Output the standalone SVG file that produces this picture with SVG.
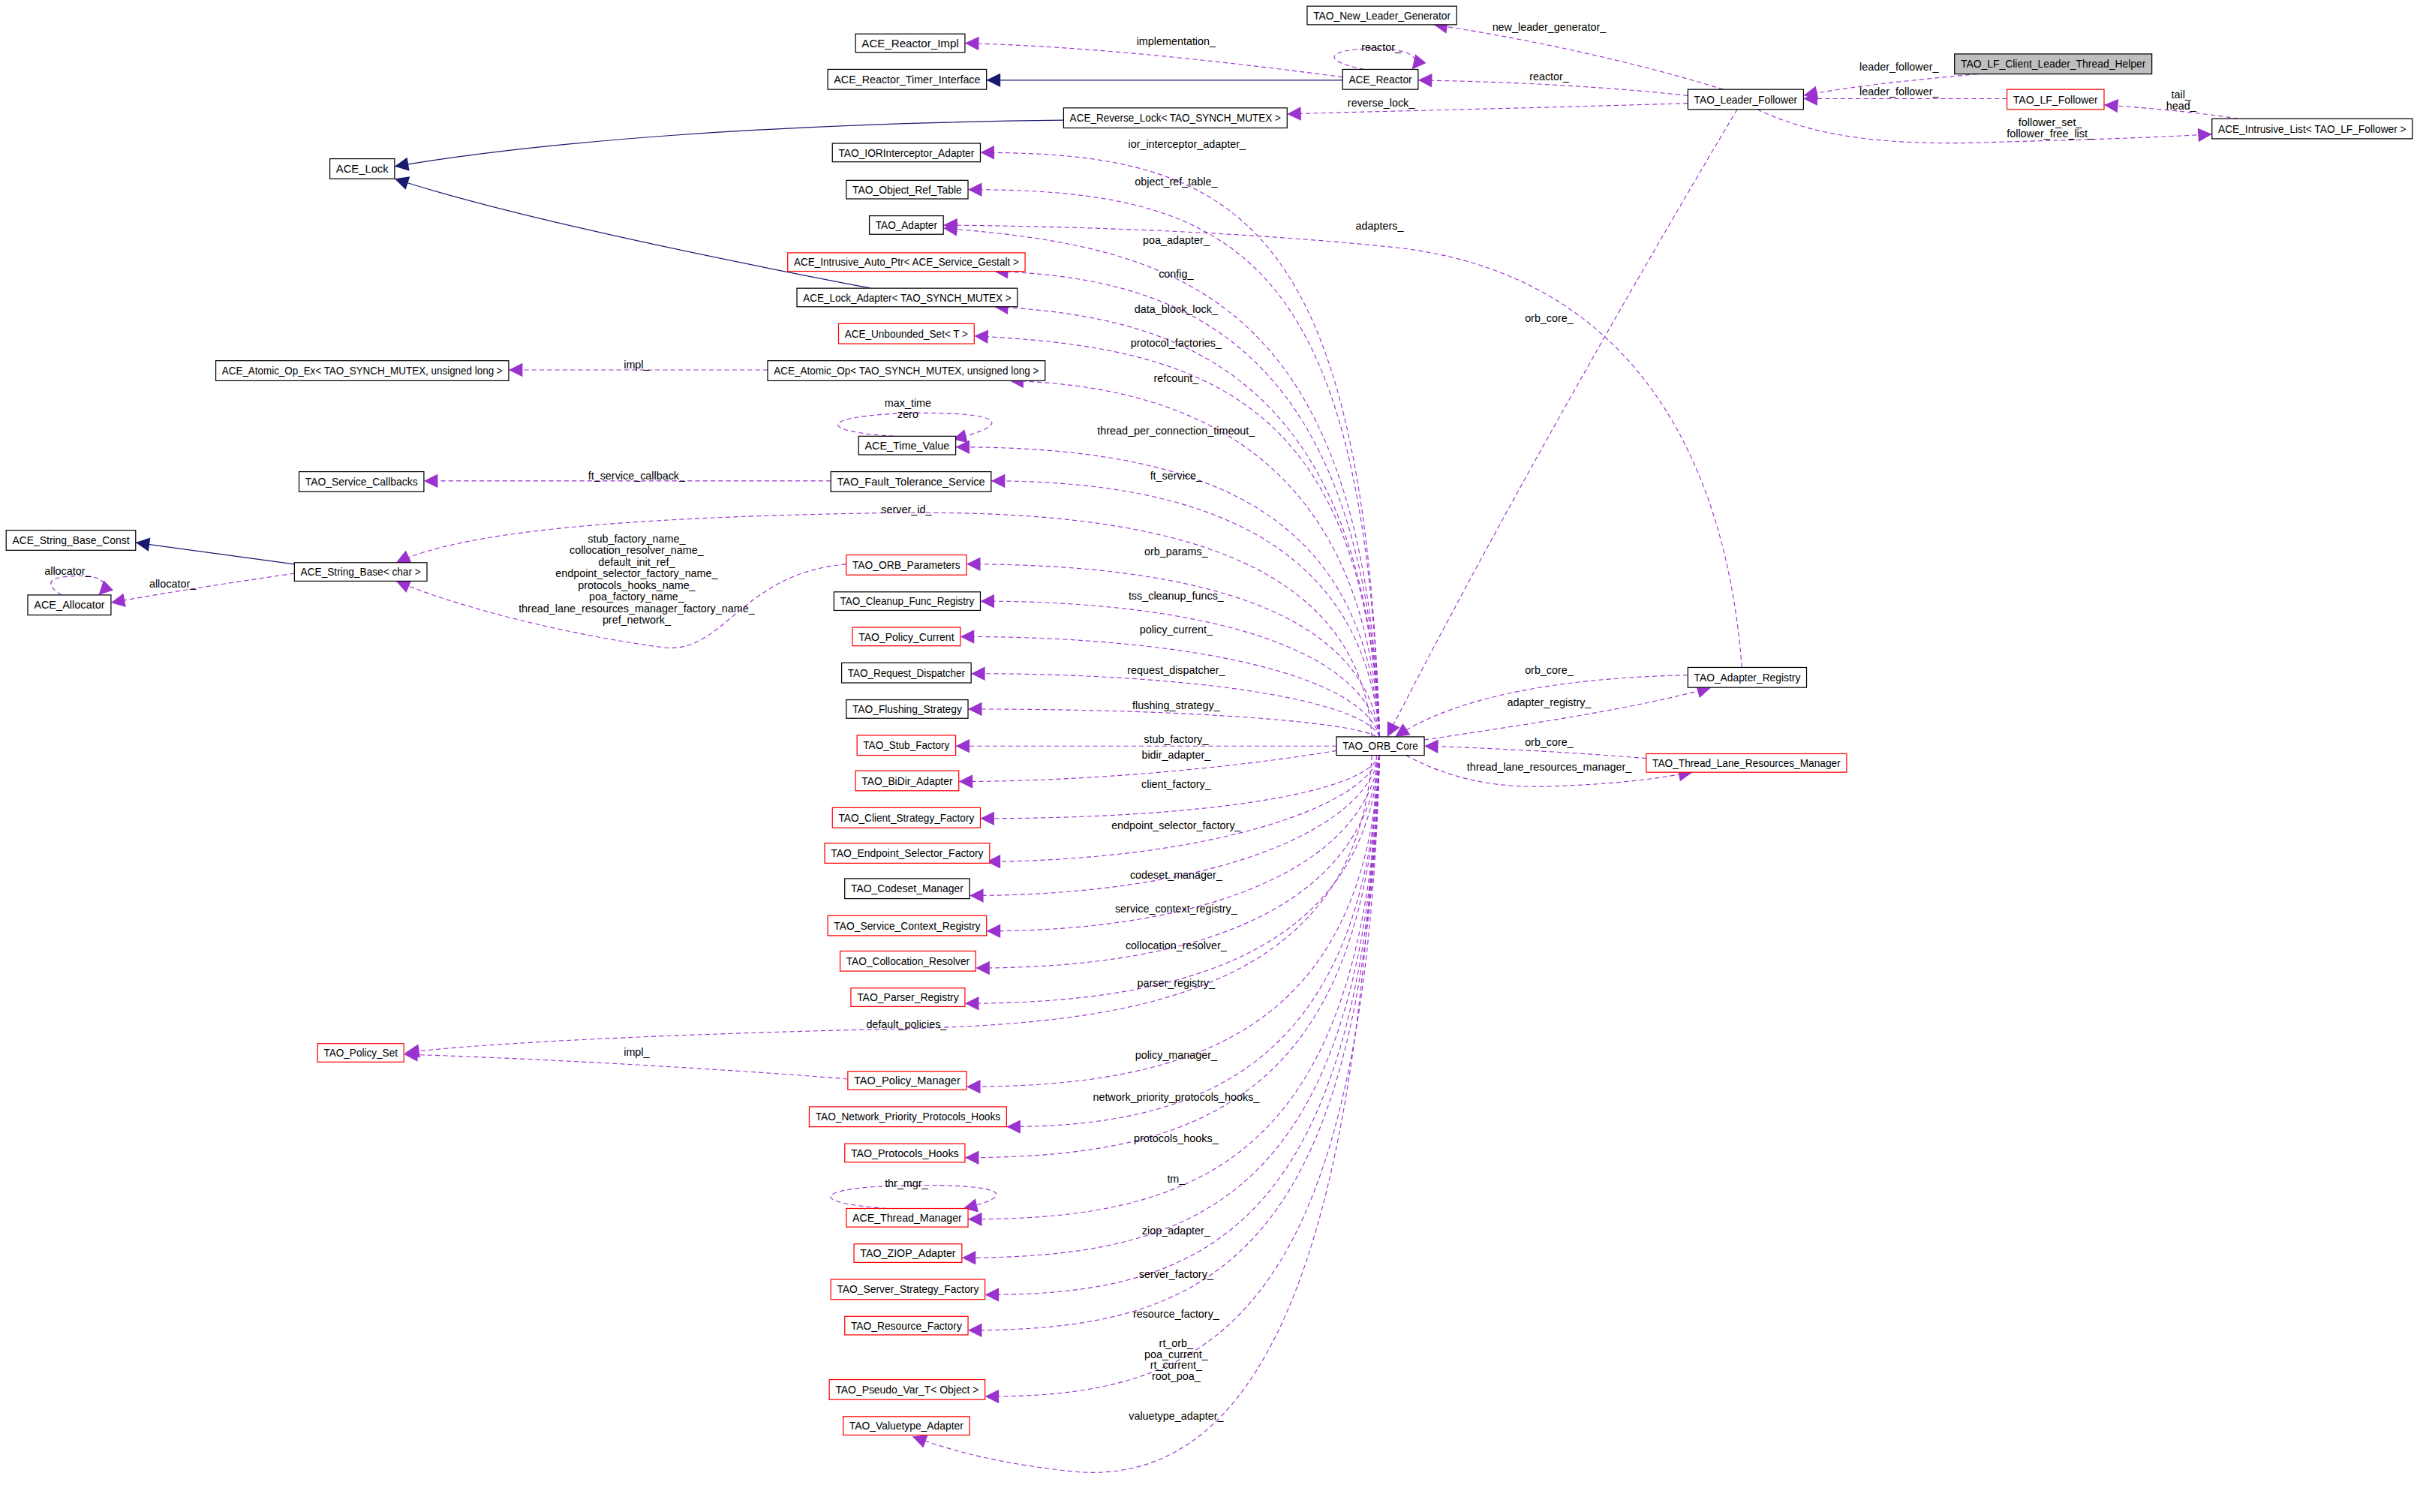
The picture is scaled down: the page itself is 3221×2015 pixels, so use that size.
<svg xmlns="http://www.w3.org/2000/svg" width="3221" height="2015" viewBox="0 0 3221 2015">
<style>
.n rect{fill:#fff;stroke:#000;stroke-width:0.6}
.r rect{stroke:#f00}
.g rect{fill:#bfbfbf}
text{font-family:"Liberation Sans",Arial,sans-serif;font-size:7px;fill:#000}
.n text{text-anchor:middle}
.e path{fill:none;stroke:#9a32cd;stroke-width:0.55;stroke-dasharray:3,2;marker-end:url(#pa)}
.i path{fill:none;stroke:#191970;stroke-width:0.6;marker-end:url(#ia)}
.l text{text-anchor:middle}
</style>
<defs>
<marker id="pa" viewBox="0 0 10 10" refX="10" refY="5" markerWidth="11" markerHeight="9" orient="auto" markerUnits="userSpaceOnUse"><path d="M0,0L10,5L0,10z" fill="#9a32cd"/></marker>
<marker id="ia" viewBox="0 0 10 10" refX="10" refY="5" markerWidth="11" markerHeight="9" orient="auto" markerUnits="userSpaceOnUse"><path d="M0,0L10,5L0,10z" fill="#191970"/></marker>
</defs>
<rect width="3221" height="2015" fill="#fff"/>
<g transform="scale(2.0542)">
<g id="connectors">
<g class="i">
<path d="M871,52L640,52"/>
<path d="M690,78C500,80 350,92 256,108"/>
<path d="M565,187C450,165 330,140 256,116"/>
<path d="M191,366L88,352"/>
</g>
<g class="e">
<path d="M871,50C780,38 700,30 626,28"/>
<path d="M885,45C860,40 860,34 880,32C905,30 925,34 916,45"/>
<path d="M1095,62C1030,55 970,53 920,52"/>
<path d="M1095,67C1000,70 900,72 835,74"/>
<path d="M1118,58C1060,40 990,25 930,16"/>
<path d="M1283,48C1240,52 1200,56 1170,62"/>
<path d="M1302,64L1170,64"/>
<path d="M1140,71C1180,90 1230,95 1300,92C1380,90 1420,88 1435,87"/>
<path d="M1452,77C1420,72 1390,70 1365,68"/>
<path d="M1127,71C1050,200 960,360 900,478"/>
<path d="M1095,438C1000,440 940,455 905,478"/>
<path d="M924,480C990,470 1060,460 1110,446"/>
<path d="M1068,492C1020,488 960,485 924,484"/>
<path d="M912,490C940,505 970,512 1010,510C1060,508 1080,504 1098,501"/>
<path d="M1130,433C1120,300 1060,175 900,160C800,150 700,147 612,146"/>
<path d="M498,240L330,240"/>
<path d="M539,312L275,312"/>
<path d="M550,700C450,692 330,686 262,684"/>
<path d="M191,372C150,378 110,384 72,391"/>
<path d="M40,386C30,380 30,375 44,374C66,372 72,378 64,386"/>
<path d="M580,283C530,280 530,270 589,268C650,267 660,275 618,285"/>
<path d="M575,784C520,780 530,770 589,769C655,768 660,776 625,784"/>
<path d="M549,366C480,372 470,425 430,420C370,412 300,395 257,377"/>
<path d="M890,478C880,340 700,330 560,333C400,336 300,345 257,365"/>
<path d="M890,490C880,660 700,665 560,668C400,672 300,678 263,683"/>
<path d="M893,490C880,900 780,960 700,955C650,950 620,942 592,932"/>
<path d="M895,478C885,139 800,99 636,99"/>
<path d="M895,478C885,163 800,123 628,123"/>
<path d="M895,478C885,188 760,160 612,148"/>
<path d="M895,478C885,216 760,180 645,176"/>
<path d="M895,478C885,239 760,205 645,199"/>
<path d="M895,478C885,258 780,225 632,218"/>
<path d="M895,478C885,287 760,250 655,247"/>
<path d="M895,478C885,330 780,290 620,290"/>
<path d="M895,478C885,352 780,312 643,312"/>
<path d="M895,478C885,398 780,366 627,366"/>
<path d="M895,478C885,420 780,390 636,390"/>
<path d="M895,478C885,440 780,413 623,413"/>
<path d="M895,478C885,455 780,437 630,437"/>
<path d="M893,478C880,469 780,460 628,460"/>
<path d="M867,484L620,484"/>
<path d="M867,487C820,495 720,507 622,507"/>
<path d="M895,490C885,515 780,531 636,531"/>
<path d="M895,490C885,525 780,558 640,559"/>
<path d="M895,490C885,541 780,581 629,581"/>
<path d="M895,490C885,564 780,604 640,604"/>
<path d="M895,490C885,588 780,628 633,628"/>
<path d="M895,490C885,611 780,651 626,651"/>
<path d="M895,490C885,665 780,705 627,705"/>
<path d="M895,490C885,691 780,731 653,731"/>
<path d="M895,490C885,711 780,751 626,751"/>
<path d="M895,490C885,751 780,791 628,791"/>
<path d="M895,490C885,776 780,816 624,816"/>
<path d="M895,490C885,800 780,840 639,840"/>
<path d="M895,490C885,823 780,863 628,863"/>
<path d="M895,490C885,866 780,906 639,906"/>
</g>
<g class="l">
<text x="763" y="29">implementation_</text>
<text x="896" y="33">reactor_</text>
<text x="1005" y="52">reactor_</text>
<text x="896" y="69">reverse_lock_</text>
<text x="1005" y="20">new_leader_generator_</text>
<text x="1232" y="46">leader_follower_</text>
<text x="1232" y="62">leader_follower_</text>
<text x="1330" y="82">follower_set_</text>
<text x="1330" y="89">follower_free_list_</text>
<text x="1415" y="64">tail_</text>
<text x="1415" y="71">head_</text>
<text x="1005" y="209">orb_core_</text>
<text x="1005" y="437">orb_core_</text>
<text x="1005" y="458">adapter_registry_</text>
<text x="1005" y="484">orb_core_</text>
<text x="1005" y="500">thread_lane_resources_manager_</text>
<text x="895" y="149">adapters_</text>
<text x="413" y="239">impl_</text>
<text x="413" y="311">ft_service_callback_</text>
<text x="413" y="685">impl_</text>
<text x="112" y="381">allocator_</text>
<text x="44" y="373">allocator_</text>
<text x="589" y="264">max_time</text>
<text x="589" y="271">zero</text>
<text x="588" y="770">thr_mgr_</text>
<text x="413" y="352">stub_factory_name_</text>
<text x="413" y="359.5">collocation_resolver_name_</text>
<text x="413" y="367">default_init_ref_</text>
<text x="413" y="374.5">endpoint_selector_factory_name_</text>
<text x="413" y="382">protocols_hooks_name_</text>
<text x="413" y="389.5">poa_factory_name_</text>
<text x="413" y="397">thread_lane_resources_manager_factory_name_</text>
<text x="413" y="404.5">pref_network_</text>
<text x="588" y="333">server_id_</text>
<text x="588" y="667">default_policies_</text>
<text x="770" y="96">ior_interceptor_adapter_</text>
<text x="763" y="120">object_ref_table_</text>
<text x="763" y="158">poa_adapter_</text>
<text x="763" y="180">config_</text>
<text x="763" y="203">data_block_lock_</text>
<text x="763" y="225">protocol_factories_</text>
<text x="763" y="248">refcount_</text>
<text x="763" y="282">thread_per_connection_timeout_</text>
<text x="763" y="311">ft_service_</text>
<text x="763" y="360">orb_params_</text>
<text x="763" y="389">tss_cleanup_funcs_</text>
<text x="763" y="411">policy_current_</text>
<text x="763" y="437">request_dispatcher_</text>
<text x="763" y="460">flushing_strategy_</text>
<text x="763" y="482">stub_factory_</text>
<text x="763" y="492">bidir_adapter_</text>
<text x="763" y="511">client_factory_</text>
<text x="763" y="538">endpoint_selector_factory_</text>
<text x="763" y="570">codeset_manager_</text>
<text x="763" y="592">service_context_registry_</text>
<text x="763" y="616">collocation_resolver_</text>
<text x="763" y="640">parser_registry_</text>
<text x="763" y="687">policy_manager_</text>
<text x="763" y="714">network_priority_protocols_hooks_</text>
<text x="763" y="741">protocols_hooks_</text>
<text x="763" y="767">tm_</text>
<text x="763" y="801">ziop_adapter_</text>
<text x="763" y="829">server_factory_</text>
<text x="763" y="855">resource_factory_</text>
<text x="763" y="874">rt_orb_</text>
<text x="763" y="881">poa_current_</text>
<text x="763" y="888">rt_current_</text>
<text x="763" y="895">root_poa_</text>
<text x="763" y="921">valuetype_adapter_</text>
</g>
</g>
<g id="n1" class="n"><rect x="848" y="4" width="97" height="12"/><text x="896.5" y="12.5" textLength="89" lengthAdjust="spacingAndGlyphs">TAO_New_Leader_Generator</text></g>
<g id="n2" class="n g"><rect x="1268" y="35" width="128" height="13"/><text x="1332" y="44" textLength="120" lengthAdjust="spacingAndGlyphs">TAO_LF_Client_Leader_Thread_Helper</text></g>
<g id="n3" class="n"><rect x="555" y="22" width="71" height="12"/><text x="590.5" y="30.5" textLength="63" lengthAdjust="spacingAndGlyphs">ACE_Reactor_Impl</text></g>
<g id="n4" class="n"><rect x="537" y="45" width="103" height="13"/><text x="588.5" y="54" textLength="95" lengthAdjust="spacingAndGlyphs">ACE_Reactor_Timer_Interface</text></g>
<g id="n5" class="n"><rect x="871" y="45" width="49" height="13"/><text x="895.5" y="54" textLength="41" lengthAdjust="spacingAndGlyphs">ACE_Reactor</text></g>
<g id="n6" class="n"><rect x="1095" y="58" width="75" height="13"/><text x="1132.5" y="67" textLength="67" lengthAdjust="spacingAndGlyphs">TAO_Leader_Follower</text></g>
<g id="n7" class="n r"><rect x="1302" y="58" width="63" height="13"/><text x="1333.5" y="67" textLength="55" lengthAdjust="spacingAndGlyphs">TAO_LF_Follower</text></g>
<g id="n8" class="n"><rect x="1435" y="77" width="130" height="13"/><text x="1500" y="86" textLength="122" lengthAdjust="spacingAndGlyphs">ACE_Intrusive_List&lt; TAO_LF_Follower &gt;</text></g>
<g id="n9" class="n"><rect x="690" y="70" width="145" height="13"/><text x="762.5" y="79" textLength="137" lengthAdjust="spacingAndGlyphs">ACE_Reverse_Lock&lt; TAO_SYNCH_MUTEX &gt;</text></g>
<g id="n10" class="n"><rect x="214" y="103" width="42" height="13"/><text x="235" y="112" textLength="34" lengthAdjust="spacingAndGlyphs">ACE_Lock</text></g>
<g id="n11" class="n"><rect x="540" y="93" width="96" height="12"/><text x="588" y="101.5" textLength="88" lengthAdjust="spacingAndGlyphs">TAO_IORInterceptor_Adapter</text></g>
<g id="n12" class="n"><rect x="549" y="117" width="79" height="12"/><text x="588.5" y="125.5" textLength="71" lengthAdjust="spacingAndGlyphs">TAO_Object_Ref_Table</text></g>
<g id="n13" class="n"><rect x="564" y="140" width="48" height="12"/><text x="588" y="148.5" textLength="40" lengthAdjust="spacingAndGlyphs">TAO_Adapter</text></g>
<g id="n14" class="n r"><rect x="511" y="164" width="154" height="12"/><text x="588" y="172.5" textLength="146" lengthAdjust="spacingAndGlyphs">ACE_Intrusive_Auto_Ptr&lt; ACE_Service_Gestalt &gt;</text></g>
<g id="n15" class="n"><rect x="517" y="187" width="143" height="12"/><text x="588.5" y="195.5" textLength="135" lengthAdjust="spacingAndGlyphs">ACE_Lock_Adapter&lt; TAO_SYNCH_MUTEX &gt;</text></g>
<g id="n16" class="n r"><rect x="544" y="210" width="88" height="13"/><text x="588" y="219" textLength="80" lengthAdjust="spacingAndGlyphs">ACE_Unbounded_Set&lt; T &gt;</text></g>
<g id="n17" class="n"><rect x="140" y="234" width="190" height="13"/><text x="235" y="243" textLength="182" lengthAdjust="spacingAndGlyphs">ACE_Atomic_Op_Ex&lt; TAO_SYNCH_MUTEX, unsigned long &gt;</text></g>
<g id="n18" class="n"><rect x="498" y="234" width="180" height="13"/><text x="588" y="243" textLength="172" lengthAdjust="spacingAndGlyphs">ACE_Atomic_Op&lt; TAO_SYNCH_MUTEX, unsigned long &gt;</text></g>
<g id="n19" class="n"><rect x="557" y="283" width="63" height="12"/><text x="588.5" y="291.5" textLength="55" lengthAdjust="spacingAndGlyphs">ACE_Time_Value</text></g>
<g id="n20" class="n"><rect x="194" y="306" width="81" height="13"/><text x="234.5" y="315" textLength="73" lengthAdjust="spacingAndGlyphs">TAO_Service_Callbacks</text></g>
<g id="n21" class="n"><rect x="539" y="306" width="104" height="13"/><text x="591" y="315" textLength="96" lengthAdjust="spacingAndGlyphs">TAO_Fault_Tolerance_Service</text></g>
<g id="n22" class="n"><rect x="4" y="344" width="84" height="13"/><text x="46" y="353" textLength="76" lengthAdjust="spacingAndGlyphs">ACE_String_Base_Const</text></g>
<g id="n23" class="n"><rect x="191" y="365" width="86" height="12"/><text x="234" y="373.5" textLength="78" lengthAdjust="spacingAndGlyphs">ACE_String_Base&lt; char &gt;</text></g>
<g id="n24" class="n"><rect x="18" y="386" width="54" height="13"/><text x="45" y="395" textLength="46" lengthAdjust="spacingAndGlyphs">ACE_Allocator</text></g>
<g id="n25" class="n r"><rect x="549" y="360" width="78" height="13"/><text x="588" y="369" textLength="70" lengthAdjust="spacingAndGlyphs">TAO_ORB_Parameters</text></g>
<g id="n26" class="n"><rect x="541" y="384" width="95" height="12"/><text x="588.5" y="392.5" textLength="87" lengthAdjust="spacingAndGlyphs">TAO_Cleanup_Func_Registry</text></g>
<g id="n27" class="n r"><rect x="553" y="407" width="70" height="12"/><text x="588" y="415.5" textLength="62" lengthAdjust="spacingAndGlyphs">TAO_Policy_Current</text></g>
<g id="n28" class="n"><rect x="546" y="430" width="84" height="13"/><text x="588" y="439" textLength="76" lengthAdjust="spacingAndGlyphs">TAO_Request_Dispatcher</text></g>
<g id="n29" class="n"><rect x="549" y="454" width="79" height="12"/><text x="588.5" y="462.5" textLength="71" lengthAdjust="spacingAndGlyphs">TAO_Flushing_Strategy</text></g>
<g id="n30" class="n r"><rect x="556" y="477" width="64" height="13"/><text x="588" y="486" textLength="56" lengthAdjust="spacingAndGlyphs">TAO_Stub_Factory</text></g>
<g id="n31" class="n r"><rect x="555" y="500" width="67" height="13"/><text x="588.5" y="509" textLength="59" lengthAdjust="spacingAndGlyphs">TAO_BiDir_Adapter</text></g>
<g id="n32" class="n r"><rect x="540" y="524" width="96" height="13"/><text x="588" y="533" textLength="88" lengthAdjust="spacingAndGlyphs">TAO_Client_Strategy_Factory</text></g>
<g id="n33" class="n r"><rect x="535" y="547" width="107" height="13"/><text x="588.5" y="556" textLength="99" lengthAdjust="spacingAndGlyphs">TAO_Endpoint_Selector_Factory</text></g>
<g id="n34" class="n"><rect x="548" y="570" width="81" height="13"/><text x="588.5" y="579" textLength="73" lengthAdjust="spacingAndGlyphs">TAO_Codeset_Manager</text></g>
<g id="n35" class="n r"><rect x="537" y="594" width="103" height="13"/><text x="588.5" y="603" textLength="95" lengthAdjust="spacingAndGlyphs">TAO_Service_Context_Registry</text></g>
<g id="n36" class="n r"><rect x="545" y="617" width="88" height="13"/><text x="589" y="626" textLength="80" lengthAdjust="spacingAndGlyphs">TAO_Collocation_Resolver</text></g>
<g id="n37" class="n r"><rect x="552" y="641" width="74" height="12"/><text x="589" y="649.5" textLength="66" lengthAdjust="spacingAndGlyphs">TAO_Parser_Registry</text></g>
<g id="n38" class="n r"><rect x="206" y="677" width="56" height="12"/><text x="234" y="685.5" textLength="48" lengthAdjust="spacingAndGlyphs">TAO_Policy_Set</text></g>
<g id="n39" class="n r"><rect x="550" y="695" width="77" height="12"/><text x="588.5" y="703.5" textLength="69" lengthAdjust="spacingAndGlyphs">TAO_Policy_Manager</text></g>
<g id="n40" class="n r"><rect x="525" y="718" width="128" height="13"/><text x="589" y="727" textLength="120" lengthAdjust="spacingAndGlyphs">TAO_Network_Priority_Protocols_Hooks</text></g>
<g id="n41" class="n r"><rect x="548" y="742" width="78" height="12"/><text x="587" y="750.5" textLength="70" lengthAdjust="spacingAndGlyphs">TAO_Protocols_Hooks</text></g>
<g id="n42" class="n r"><rect x="549" y="784" width="79" height="12"/><text x="588.5" y="792.5" textLength="71" lengthAdjust="spacingAndGlyphs">ACE_Thread_Manager</text></g>
<g id="n43" class="n r"><rect x="554" y="807" width="70" height="12"/><text x="589" y="815.5" textLength="62" lengthAdjust="spacingAndGlyphs">TAO_ZIOP_Adapter</text></g>
<g id="n44" class="n r"><rect x="539" y="830" width="100" height="13"/><text x="589" y="839" textLength="92" lengthAdjust="spacingAndGlyphs">TAO_Server_Strategy_Factory</text></g>
<g id="n45" class="n r"><rect x="548" y="854" width="80" height="12"/><text x="588" y="862.5" textLength="72" lengthAdjust="spacingAndGlyphs">TAO_Resource_Factory</text></g>
<g id="n46" class="n r"><rect x="538" y="895" width="101" height="13"/><text x="588.5" y="904" textLength="93" lengthAdjust="spacingAndGlyphs">TAO_Pseudo_Var_T&lt; Object &gt;</text></g>
<g id="n47" class="n r"><rect x="547" y="919" width="82" height="12"/><text x="588" y="927.5" textLength="74" lengthAdjust="spacingAndGlyphs">TAO_Valuetype_Adapter</text></g>
<g id="n48" class="n"><rect x="867" y="478" width="57" height="12"/><text x="895.5" y="486.5" textLength="49" lengthAdjust="spacingAndGlyphs">TAO_ORB_Core</text></g>
<g id="n49" class="n"><rect x="1095" y="433" width="77" height="13"/><text x="1133.5" y="442" textLength="69" lengthAdjust="spacingAndGlyphs">TAO_Adapter_Registry</text></g>
<g id="n50" class="n r"><rect x="1068" y="489" width="130" height="12"/><text x="1133" y="497.5" textLength="122" lengthAdjust="spacingAndGlyphs">TAO_Thread_Lane_Resources_Manager</text></g>
</g>
</svg>
